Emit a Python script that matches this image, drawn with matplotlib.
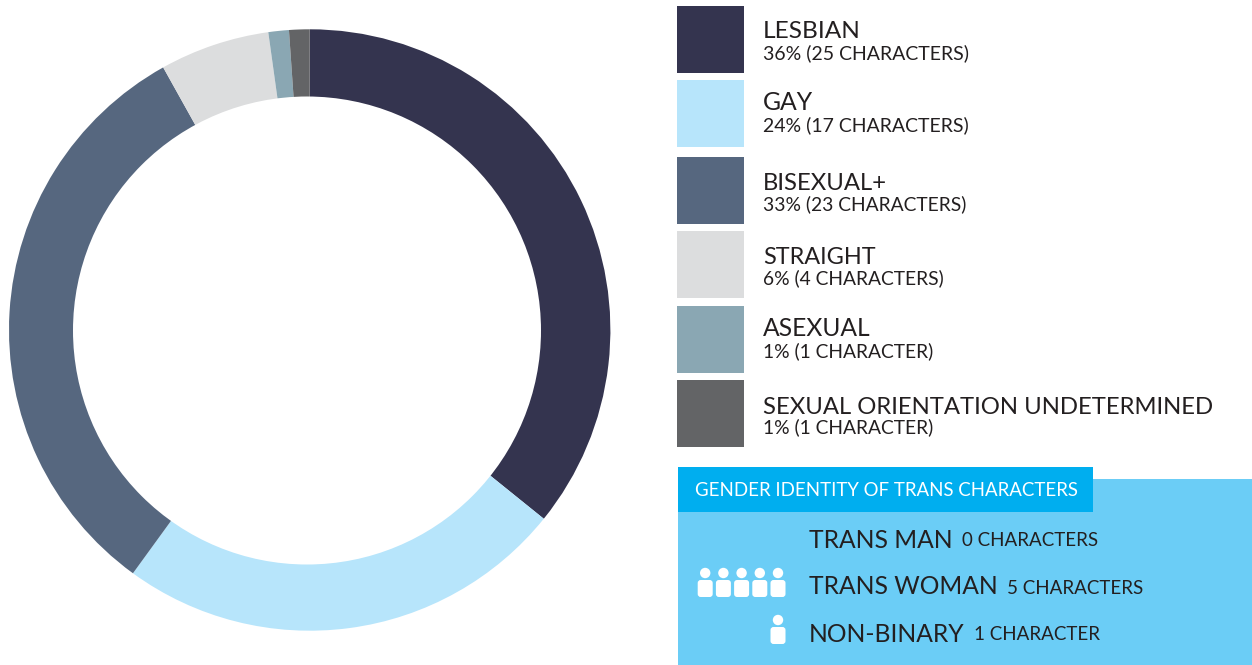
import matplotlib
matplotlib.use('Agg')
import matplotlib.pyplot as plt
from matplotlib.patches import Rectangle, Circle, FancyBboxPatch

plt.rcParams['font.family'] = ['Lato', 'DejaVu Sans']

# sexual orientation of characters
categories = ['LESBIAN', 'GAY', 'BISEXUAL+', 'STRAIGHT', 'ASEXUAL', 'SEXUAL ORIENTATION UNDETERMINED']
# slice shares as read off the ring, they don't add up exactly from the printed labels
shares = [35.8, 24.2, 31.9, 5.9, 1.1, 1.1]
detail_labels = ['36% (25 CHARACTERS)', '24% (17 CHARACTERS)', '33% (23 CHARACTERS)',
                 '6% (4 CHARACTERS)', '1% (1 CHARACTER)', '1% (1 CHARACTER)']
colors = ['#34344f', '#b7e5fb', '#56677f', '#dcddde', '#8aa7b3', '#636466']

# trans characters panel
panel_title = 'GENDER IDENTITY OF TRANS CHARACTERS'
trans_labels = ['TRANS MAN', 'TRANS WOMAN', 'NON-BINARY']
trans_counts = [0, 5, 1]
trans_details = ['0 CHARACTERS', '5 CHARACTERS', '1 CHARACTER']

W, H = 1252, 665
text_color = '#231f20'

fig = plt.figure(figsize=(W / 100, H / 100), dpi=100)

# donut, axes box is the outer circle in pixels
cx, cy, r = 309.7, 330, 300.7
ax_pie = fig.add_axes([(cx - r) / W, 1 - (cy + r) / H, 2 * r / W, 2 * r / H])
ax_pie.pie(shares, colors=colors, startangle=90, counterclock=False, radius=1,
           wedgeprops=dict(linewidth=0))
ax_pie.set_xlim(-1, 1)
ax_pie.set_ylim(-1, 1)

# everything else is placed in pixel coordinates
ax = fig.add_axes([0, 0, 1, 1], facecolor='none')
ax.set_xlim(0, W)
ax.set_ylim(H, 0)
ax.axis('off')

# the hole sits slightly off centre in the original
ax.add_patch(Circle((307, 330.5), 234, color='white', lw=0))

swatch_tops = [6, 80, 157, 231, 306, 380]
name_y = [31, 103, 183, 257, 329, 407]
name_sizes = [17.6, 17.8, 17.2, 16.9, 17.7, 17.2]
detail_y = [53, 125, 204, 278, 351, 427]
detail_sizes = [14, 14, 13.9, 13.9, 13.9, 13.9]
for i, cat in enumerate(categories):
    ax.add_patch(Rectangle((677, swatch_tops[i]), 67, 67, color=colors[i], lw=0))
    ax.text(763, name_y[i], cat, fontsize=name_sizes[i], color=text_color, va='center', ha='left')
    ax.text(763, detail_y[i], detail_labels[i], fontsize=detail_sizes[i], color=text_color,
            va='center', ha='left')

# blue panel with darker title tab
ax.add_patch(Rectangle((678, 479), 574, 186, color='#6bcdf6', lw=0))
ax.add_patch(Rectangle((678, 467), 415, 45, color='#00aeef', lw=0))
ax.text(695, 490.5, panel_title, fontsize=13.4, color='white', va='center', ha='left')

row_y = [540, 587, 634]
for i, label in enumerate(trans_labels):
    t = ax.text(809, row_y[i], label, fontsize=17.7, color=text_color, va='center', ha='left')
    fig.canvas.draw()
    bb = t.get_window_extent()
    ax.text(bb.x1 + 9, row_y[i] + 1, trans_details[i], fontsize=13.5, color=text_color,
            va='center', ha='left')
    # person icons, filled from the right
    for n in range(trans_counts[i]):
        px = 778 - 18.2 * n
        ax.add_patch(Circle((px, row_y[i] - 14), 5.2, color='white', lw=0))
        ax.add_patch(FancyBboxPatch((px - 5.5, row_y[i] - 5), 11, 13,
                                    boxstyle='round,pad=2,rounding_size=3', color='white', lw=0))

plt.savefig('out.png', dpi=100)
